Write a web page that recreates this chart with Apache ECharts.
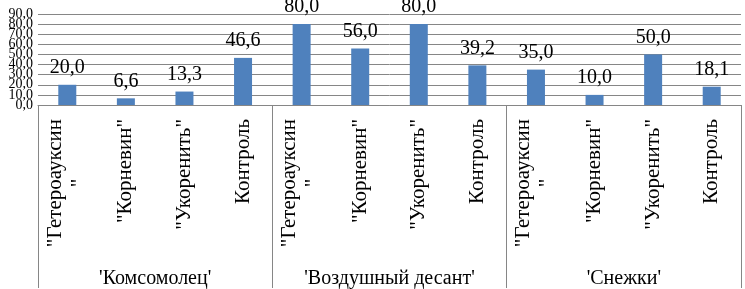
<!DOCTYPE html>
<html><head><meta charset="utf-8">
<script src="https://cdn.jsdelivr.net/npm/echarts@6/dist/echarts.min.js"></script>
<style>html,body{margin:0;padding:0;background:#fff}#c{width:745px;height:289px}</style>
</head><body><div id="c"></div>
<script>
var categories = ['"Гетероауксин"', '"Корневин"', '"Укоренить"', 'Контроль',
                  '"Гетероауксин"', '"Корневин"', '"Укоренить"', 'Контроль',
                  '"Гетероауксин"', '"Корневин"', '"Укоренить"', 'Контроль'];
var groups = ["'Комсомолец'", "'Воздушный десант'", "'Снежки'"];
var values = [20.0, 6.6, 13.3, 46.6, 80.0, 56.0, 80.0, 39.2, 35.0, 10.0, 50.0, 18.1];
var yTicks = [0, 10, 20, 30, 40, 50, 60, 70, 80, 90];

var FONT = 'Liberation Serif';
var Y_MIN = yTicks[0], Y_MAX = yTicks[yTicks.length - 1];
var chart = echarts.init(document.getElementById('c'));
function fmt(v){ return Number(v).toFixed(1).replace('.', ','); }
var yRich = { n: { fontFamily: FONT, fontSize: 14, lineHeight: 8, color: '#000' } };
chart.setOption({
  animation: false,
  textStyle: { fontFamily: FONT },
  grid: { left: 38, right: 4, top: 14, bottom: 183, containLabel: false },
  xAxis: [{
    type: 'category', data: categories, position: 'bottom',
    axisLine: { show: true, lineStyle: { color: '#868686', width: 1 } },
    axisTick: { show: false },
    axisLabel: {
      interval: 0, rotate: 90, margin: 14, color: '#000', hideOverlap: false,
      fontFamily: FONT, fontSize: 21, lineHeight: 24,
      formatter: function (v) {
        if (v === '"Гетероауксин"') return '{a|"Гетероауксин}\n{c|"}';
        return '{a|' + v + '}';
      },
      rich: {
        a: { fontFamily: FONT, fontSize: 21, lineHeight: 24, color: '#000' },
        c: { fontFamily: FONT, fontSize: 21, lineHeight: 24, color: '#000', align: 'center' }
      }
    },
    splitLine: { show: false }
  }, {
    type: 'category', data: groups, position: 'bottom',
    axisLine: { show: false },
    axisTick: { show: true, length: 183, inside: false, lineStyle: { color: '#868686', width: 1 } },
    axisLabel: { interval: 0, margin: 164, color: '#000', fontFamily: FONT, fontSize: 20, hideOverlap: false },
    splitLine: { show: false }
  }],
  yAxis: [{
    type: 'value', min: Y_MIN, max: Y_MAX, interval: 10, position: 'left',
    axisLine: { show: false }, axisTick: { show: false },
    axisLabel: { color: '#000', margin: 5,
      formatter: function (v) { return '{n|' + fmt(v) + '}'; }, rich: yRich },
    splitLine: { lineStyle: { color: '#868686', width: 1 } }
  }, {
    type: 'value', min: Y_MIN, max: Y_MAX, interval: 10, position: 'left', offset: 0,
    axisLine: { show: false }, axisTick: { show: false }, splitLine: { show: false },
    axisLabel: { color: '#000', margin: 5, showMinLabel: true, showMaxLabel: true,
      formatter: function (v) { return (v === Y_MIN || v === Y_MAX) ? '{n|' + fmt(v) + '}' : ''; },
      rich: yRich }
  }],
  series: [{
    type: 'bar', xAxisIndex: 0, yAxisIndex: 0, data: values, barWidth: 18,
    itemStyle: { color: '#4F81BD' },
    label: { show: true, position: 'top', distance: 7, color: '#000', fontFamily: FONT, fontSize: 20, formatter: function (p) { return fmt(p.value); } }
  }]
});
</script></body></html>
